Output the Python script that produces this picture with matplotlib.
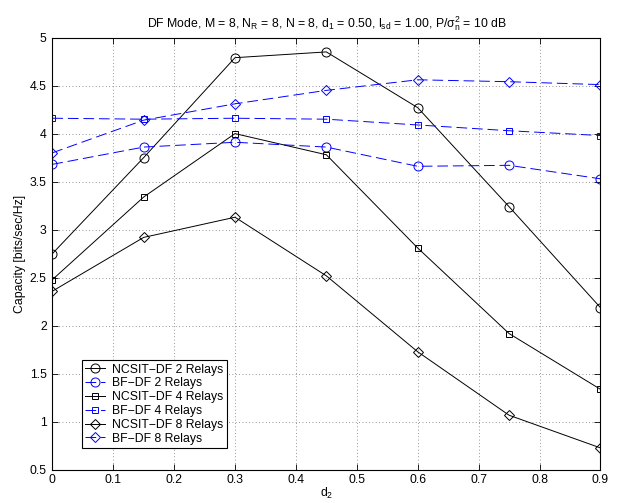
import numpy as np
import matplotlib
matplotlib.use("Agg")
import matplotlib.pyplot as plt

# relay position d2 and capacity values (bits/sec/Hz)
d2 = [0, 0.15, 0.3, 0.45, 0.6, 0.75, 0.9]
ncsit_2 = [2.75, 3.75, 4.79, 4.85, 4.27, 3.24, 2.19]
bf_2 = [3.68, 3.86, 3.91, 3.86, 3.66, 3.67, 3.53]
ncsit_4 = [2.48, 3.34, 4.00, 3.78, 2.81, 1.92, 1.34]
bf_4 = [4.16, 4.15, 4.16, 4.15, 4.09, 4.03, 3.98]
ncsit_8 = [2.36, 2.92, 3.13, 2.52, 1.73, 1.07, 0.73]
bf_8 = [3.80, 4.14, 4.31, 4.45, 4.56, 4.54, 4.51]

labels = ['NCSIT\u2212DF 2 Relays', 'BF\u2212DF 2 Relays',
          'NCSIT\u2212DF 4 Relays', 'BF\u2212DF 4 Relays',
          'NCSIT\u2212DF 8 Relays', 'BF\u2212DF 8 Relays']
xticks = [0, 0.1, 0.2, 0.3, 0.4, 0.5, 0.6, 0.7, 0.8, 0.9]
yticks = [0.5, 1, 1.5, 2, 2.5, 3, 3.5, 4, 4.5, 5]

plt.rcParams['font.family'] = ['Liberation Sans', 'DejaVu Sans']
plt.rcParams['mathtext.default'] = 'regular'
FS = 8.8

fig = plt.figure(figsize=(6.19, 5.03), dpi=100)
W, H = 619, 503
left, right, top, bottom = 52.3, 600.4, 37.5, 470.0
ax = fig.add_axes([left / W, 1 - bottom / H, (right - left) / W, (bottom - top) / H])

series = [ncsit_2, bf_2, ncsit_4, bf_4, ncsit_8, bf_8]
markers = ['o', 'o', 's', 's', 'D', 'D']
msizes = [6.5, 6.5, 4.8, 4.8, 5.2, 5.2]
for i, (ys, m, ms, lab) in enumerate(zip(series, markers, msizes, labels)):
    blue = (i % 2 == 1)
    ax.plot(d2, ys,
            color='blue' if blue else 'black',
            linestyle=(0, (11, 5)) if blue else '-',
            linewidth=0.7,
            marker=m,
            markersize=ms,
            markerfacecolor='none',
            markeredgewidth=0.7,
            label=lab)

ax.set_xlim(0, 0.9)
ax.set_ylim(0.5, 5)
ax.set_xticks(xticks)
ax.set_yticks(yticks)
ax.set_xticklabels(['0', '0.1', '0.2', '0.3', '0.4', '0.5', '0.6', '0.7', '0.8', '0.9'])
ax.set_yticklabels(['0.5', '1', '1.5', '2', '2.5', '3', '3.5', '4', '4.5', '5'])
ax.tick_params(direction='in', top=True, right=True, length=4, width=0.6, labelsize=FS, pad=4)
ax.tick_params(axis='x', pad=3)
ax.grid(True, linestyle=(0, (1, 3)), color='0.45', linewidth=0.6)
for s in ax.spines.values():
    s.set_linewidth(0.8)

ax.set_title(r'DF Mode, M = 8, N$_R$ = 8, N = 8, d$_1$ = 0.50, l$_{sd}$ = 1.00, P/$\sigma_n^2$ = 10 dB',
             fontsize=FS, pad=7)
ax.set_xlabel('d$_2$', fontsize=FS, labelpad=0)
ax.set_ylabel('Capacity [bits/sec/Hz]', fontsize=FS, labelpad=3)

leg = ax.legend(loc='lower left', bbox_to_anchor=(0.0537, 0.050), borderaxespad=0,
                fancybox=False, framealpha=1, edgecolor='black', fontsize=FS,
                handlelength=1.6, handletextpad=0.6, labelspacing=0.15,
                borderpad=0.3)
leg.get_frame().set_linewidth(0.8)

fig.savefig('out.png', dpi=100)
